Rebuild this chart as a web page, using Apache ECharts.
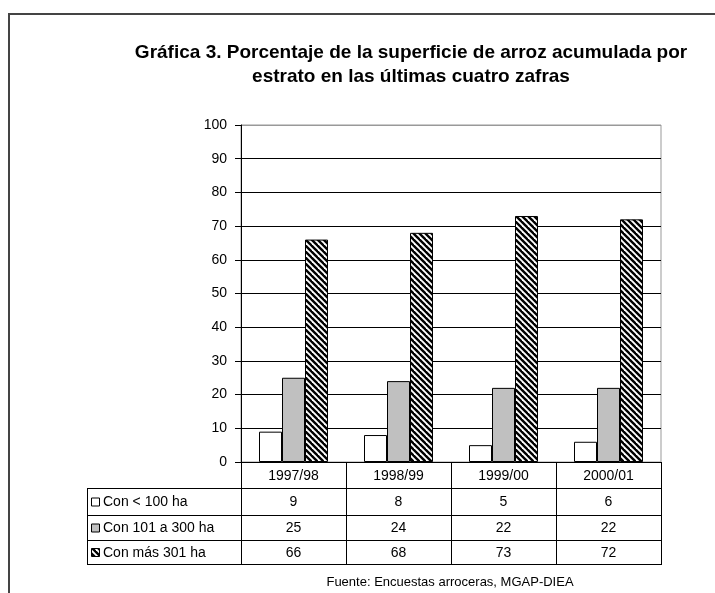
<!DOCTYPE html>
<html><head><meta charset="utf-8">
<script src="https://cdn.jsdelivr.net/npm/echarts@6/dist/echarts.min.js"></script>
<style>html,body{margin:0;padding:0;background:#fff}#c{width:715px;height:593px}</style>
</head><body><div id="c"></div>
<script>
// ---- data ----
const categories = ['1997/98', '1998/99', '1999/00', '2000/01'];
const seriesNames = ['Con < 100 ha', 'Con 101 a 300 ha', 'Con más 301 ha'];
const smallFarms = [9, 8, 5, 6];
const mediumFarms = [25, 24, 22, 22];
const largeFarms = [66, 68, 73, 72];
const yMin = 0, yMax = 100, yStep = 10;
const titleLines = ['Gráfica 3. Porcentaje de la superficie de arroz acumulada por', 'estrato en las últimas cuatro zafras'];
const sourceText = 'Fuente: Encuestas arroceras, MGAP-DIEA';

// ---- layout ----
const FONT = '"Liberation Sans", Arial, sans-serif';
const GL = 241, GT = 125, GW = 420, GH = 337;
const GB = GT + GH;
const TABLE_LEFT = 87;
const rowEdges = [GB, 488, 515, 540, 564];

function hatchCanvas(bg) {
  const c = document.createElement('canvas');
  c.width = 6; c.height = 6;
  const g = c.getContext('2d');
  g.fillStyle = bg; g.fillRect(0, 0, 6, 6);
  g.strokeStyle = '#000'; g.lineWidth = 2.4;
  for (const o of [-6, 0, 6]) {
    g.beginPath(); g.moveTo(o - 1, -1); g.lineTo(o + 7, 7); g.stroke();
  }
  return c;
}
const hatch = { image: hatchCanvas('#fff'), repeat: 'repeat' };

const seriesData = [smallFarms, mediumFarms, largeFarms];
const fills = ['#ffffff', '#c0c0c0', hatch];

const chart = echarts.init(document.getElementById('c'), null, { renderer: 'canvas' });

const graphics = [];
// outer frame
graphics.push({ type: 'rect', z: 0, shape: { x: 9, y: 14, width: 720, height: 600 },
  style: { fill: null, stroke: '#444', lineWidth: 2 } });
// table lines
const n = categories.length;
const colX = i => GL + i * GW / n;
function hline(x1, x2, y) {
  graphics.push({ type: 'line', z: 10, shape: { x1, y1: y + 0.5, x2, y2: y + 0.5 }, style: { stroke: '#000', lineWidth: 1 } });
}
function vline(x, y1, y2) {
  graphics.push({ type: 'line', z: 10, shape: { x1: x + 0.5, y1, x2: x + 0.5, y2 }, style: { stroke: '#000', lineWidth: 1 } });
}
for (let r = 1; r < rowEdges.length; r++) hline(TABLE_LEFT, GL + GW, rowEdges[r]);
vline(TABLE_LEFT, rowEdges[1], rowEdges[rowEdges.length - 1] + 1);
for (let i = 0; i <= n; i++) vline(Math.round(colX(i)), GB, rowEdges[rowEdges.length - 1] + 1);
// table cells
seriesData.forEach((arr, r) => {
  const yc = (rowEdges[r + 1] + rowEdges[r + 2]) / 2 + 1;
  arr.forEach((v, i) => {
    graphics.push({ type: 'text', z: 11, x: (colX(i) + colX(i + 1)) / 2, y: yc,
      style: { text: String(v), fontSize: 14, fontFamily: FONT, fill: '#000', align: 'center', verticalAlign: 'middle' } });
  });
  // legend key
  graphics.push({ type: 'rect', z: 11, shape: { x: 91.5, y: yc - 4.5, width: 8, height: 8 },
    style: { fill: r === 2 ? { image: hatchCanvas('#fff'), repeat: 'repeat' } : fills[r], stroke: '#000', lineWidth: 1 } });
  graphics.push({ type: 'text', z: 11, x: 103, y: yc,
    style: { text: seriesNames[r], fontSize: 14, fontFamily: FONT, fill: '#000', align: 'left', verticalAlign: 'middle' } });
});
// source
graphics.push({ type: 'text', z: 11, x: 450, y: 582,
  style: { text: sourceText, fontSize: 13, fontFamily: FONT, fill: '#000', align: 'center', verticalAlign: 'middle' } });

const splitColors = [];
for (let v = yMin; v <= yMax; v += yStep) splitColors.push(v === yMax ? '#999999' : '#000000');

chart.setOption({
  animation: false,
  backgroundColor: '#fff',
  title: {
    text: titleLines.join('\n'), left: 406, top: 36, textAlign: 'center',
    textStyle: { fontSize: 19, fontWeight: 'bold', lineHeight: 24, fontFamily: FONT, color: '#000' }
  },
  grid: { left: GL, top: GT, width: GW, height: GH, show: true, borderColor: '#999', borderWidth: 1, backgroundColor: 'transparent' },
  xAxis: {
    type: 'category', data: categories,
    axisLine: { lineStyle: { color: '#000', width: 1 } },
    axisTick: { show: false },
    axisLabel: { color: '#000', fontSize: 14, fontFamily: FONT, margin: 7 }
  },
  yAxis: {
    type: 'value', min: yMin, max: yMax, interval: yStep,
    axisLine: { show: true, lineStyle: { color: '#000', width: 1 } },
    axisTick: { show: true, length: 6, lineStyle: { color: '#000' } },
    axisLabel: { color: '#000', fontSize: 14, fontFamily: FONT, margin: 14 },
    splitLine: { show: true, lineStyle: { color: splitColors, width: 1 } }
  },
  series: seriesData.map((arr, k) => ({
    type: 'bar', name: seriesNames[k], data: arr,
    barWidth: 23, barGap: '0%',
    itemStyle: { color: fills[k], borderColor: '#000', borderWidth: 1 }
  })),
  graphic: graphics
});
</script></body></html>
